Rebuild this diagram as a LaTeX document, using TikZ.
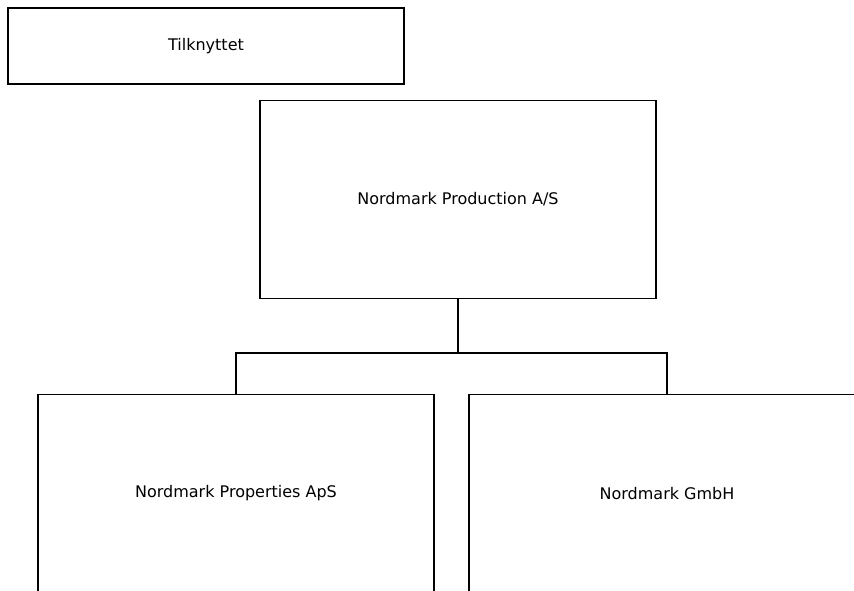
\documentclass[tikz,border=0pt]{standalone}
\usepackage{fontspec}
\setmainfont{DejaVu Sans}
\begin{document}
\begin{tikzpicture}[x=0.75pt,y=-0.75pt,font=\fontsize{12}{14}\selectfont,
  unitbox/.style={draw,line width=0.8pt,inner sep=0pt,minimum width=297pt,minimum height=148pt}]
  \useasboundingbox (0,0) rectangle (854,590);
  \clip (0,0) rectangle (854,590);
  \node[unitbox,minimum height=57pt] (assoc) at (206,46) {Tilknyttet};
  \node[unitbox] (prod) at (458,199.5) {Nordmark Production A/S};
  \node[unitbox] (props) at (236,493.5) {Nordmark Properties ApS};
  \node[unitbox] (gmbh) at (667,493.5) {Nordmark GmbH};
  \coordinate (fork) at (458,353);
  \draw[line width=0.8pt] (prod.south) -- (fork) -| (props.north);
  \draw[line width=0.8pt] (fork) -| (gmbh.north);
\end{tikzpicture}
\end{document}
